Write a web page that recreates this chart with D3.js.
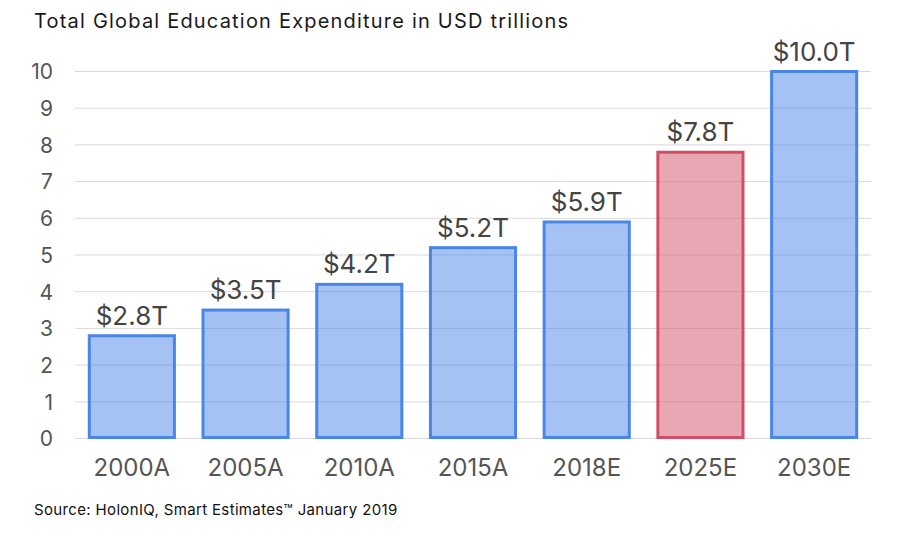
<!DOCTYPE html>
<html><head><meta charset="utf-8">
<script src="https://cdn.jsdelivr.net/npm/d3@7"></script>
<style>body{margin:0;background:#fff}svg{display:block}</style>
</head><body>
<script>
const categories = ["2000A","2005A","2010A","2015A","2018E","2025E","2030E"];
const values = [2.8,3.5,4.2,5.2,5.9,7.8,10.0];
const labels = ["$2.8T","$3.5T","$4.2T","$5.2T","$5.9T","$7.8T","$10.0T"];
const highlight = ["2025E"];
const yTicks = [0,1,2,3,4,5,6,7,8,9,10];

const W=909,H=537;
const font="Inter, 'Noto Sans', sans-serif";
const svg=d3.select("body").append("svg").attr("width",W).attr("height",H);
const x=d3.scaleBand().domain(categories).range([75,871]).paddingInner(0.225).paddingOuter(0.1125);
const y=d3.scaleLinear().domain([0,10]).range([438.5,71.5]);

svg.append("text").attr("x",34).attr("y",28).attr("font-family",font).attr("font-size",20)
 .attr("letter-spacing",1.2).attr("fill","#1a1a1a").text("Total Global Education Expenditure in USD trillions");

const g=svg.append("g");
g.selectAll("line.grid").data(yTicks).join("line").attr("class","grid")
 .attr("x1",75).attr("x2",871).attr("y1",d=>y(d)).attr("y2",d=>y(d)).attr("stroke","#d9d9d9").attr("stroke-width",1);

const yAxis=d3.axisLeft(y).tickValues(yTicks).tickSize(0).tickPadding(0);
const ya=svg.append("g").attr("transform","translate(53,0)").call(yAxis);
ya.select(".domain").remove();
ya.selectAll("text").attr("font-family",font).attr("font-size",21).attr("fill","#555").attr("dy","0.35em");

const xAxis=d3.axisBottom(x).tickSize(0).tickPadding(0);
const xa=svg.append("g").attr("transform","translate(0,468)").call(xAxis);
xa.select(".domain").remove();
xa.selectAll("text").attr("font-family",font).attr("font-size",24).attr("fill","#555").attr("dy","0.35em");

const data=categories.map((c,i)=>({c,v:values[i],l:labels[i],h:highlight.includes(c)}));
svg.selectAll("rect.bar").data(data).join("rect").attr("class","bar")
 .attr("x",d=>x(d.c)+1.5).attr("width",x.bandwidth()-3)
 .attr("y",d=>y(d.v)).attr("height",d=>y(0)-y(d.v)-1)
 .attr("fill",d=>d.h?"#d14f65":"#4a86e8").attr("fill-opacity",0.5)
 .attr("stroke",d=>d.h?"#d14f65":"#4a86e8").attr("stroke-width",3);

svg.selectAll("text.val").data(data).join("text").attr("class","val")
 .attr("x",d=>x(d.c)+x.bandwidth()/2).attr("y",d=>y(d.v)-11)
 .attr("text-anchor","middle").attr("font-family",font).attr("font-size",26).attr("fill","#444").text(d=>d.l);

svg.append("text").attr("x",34).attr("y",515).attr("font-family",font).attr("font-size",15).attr("letter-spacing",0.35).attr("fill","#111").text("Source: HolonIQ, Smart Estimates™ January 2019");
</script>
</body></html>
